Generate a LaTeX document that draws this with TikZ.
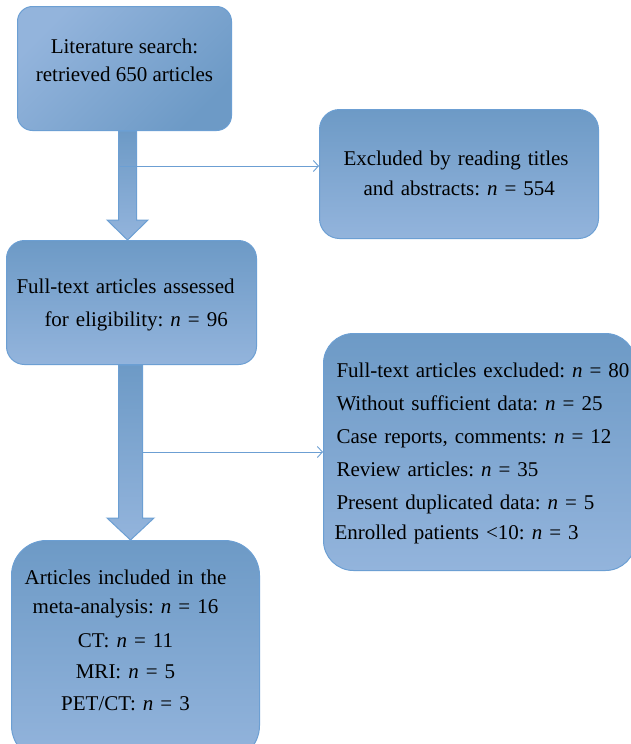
\documentclass[tikz,border=0pt]{standalone}
\usepackage{fontspec}
\setmainfont{Liberation Serif}
\frenchspacing
\usetikzlibrary{arrows.meta,calc}

\definecolor{boxdark}{HTML}{6D9AC6}
\definecolor{boxlight}{HTML}{93B4DC}
\definecolor{boxedge}{HTML}{6C9FD3}

\begin{document}
\begin{tikzpicture}[x=1pt,y=-1pt,>={Straight Barb[length=5pt,width=11pt]}]
  \tikzset{
    box/.style={draw=boxedge, line width=1pt, top color=boxdark, bottom color=boxlight,
      inner ysep=0pt, anchor=north west, font=\fontsize{21}{#1}\selectfont},
    box/.default=30,
    bigarrow/.style={draw=boxedge, line width=1pt, top color=boxdark, bottom color=boxlight},
    link/.style={draw=boxedge, line width=0.9pt, ->}
  }
  \path[use as bounding box, fill=white] (0,0) rectangle (630,744);

  % boxes
  \node[box=28, rounded corners=15pt, top color=boxlight, bottom color=boxdark, shading angle=45,
    minimum width=214pt, align=center, text height=75pt, text depth=49pt] (lit) at (17,6)
    {Literature search:\\retrieved 650 articles};
  \node[box=30, rounded corners=20pt, inner xsep=24pt, text width=231pt, align=left,
    text height=56pt, text depth=73pt] (excl1) at (319,109)
    {Excluded by reading titles\\\hspace*{20pt}and abstracts: \textit{n} = 554};
  \node[box=33, rounded corners=18pt, inner xsep=10pt, text width=230pt, align=left,
    text height=53pt, text depth=71pt] (assess) at (6,240)
    {Full-text articles assessed\\\hspace*{28pt}for eligibility: \textit{n} = 96};
  \node[box=33, rounded corners=30pt, inner xsep=13pt, text width=286pt, align=left,
    text height=44pt, text depth=193pt] (excl2) at (323,333)
    {\mbox{Full-text articles excluded: \textit{n} = 80}\\
     Without sufficient data: \textit{n} = 25\\
     Case reports, comments: \textit{n} = 12\\
     Review articles: \textit{n} = 35\\
     Present duplicated data: \textit{n} = 5\\[-3pt]
     \hspace*{-2pt}Enrolled patients <10: \textit{n} = 3};
  \node[box=31, rounded corners=35pt, inner xsep=15pt, text width=218pt, align=left,
    text height=44pt, text depth=176pt] (incl) at (11,540)
    {\makebox[198pt]{Articles included in the}\\[-2pt]
     \makebox[198pt]{meta-analysis: \textit{n} = 16}\\[3pt]
     \makebox[198pt]{CT: \textit{n} = 11}\\
     \makebox[198pt]{MRI: \textit{n} = 5}\\[1pt]
     \makebox[198pt]{PET/CT: \textit{n} = 3}};

  % block arrows down the left column
  \coordinate (a1) at ($(lit.south)+(3,0)$);
  \coordinate (a1tip) at (a1 |- assess.north);
  \path[bigarrow] ($(a1)+(-9,0)$) -- ($(a1tip)+(-9,-20)$) -- ($(a1tip)+(-20.5,-20)$) -- (a1tip)
    -- ($(a1tip)+(20.5,-20)$) -- ($(a1tip)+(9,-20)$) -- ($(a1)+(9,0)$) -- cycle;
  \coordinate (a2) at ($(assess.south)+(-1,0)$);
  \coordinate (a2tip) at (a2 |- incl.north);
  \path[bigarrow] ($(a2)+(-12,0)$) -- ($(a2tip)+(-12,-22)$) -- ($(a2tip)+(-23.5,-22)$) -- (a2tip)
    -- ($(a2tip)+(23.5,-22)$) -- ($(a2tip)+(12,-22)$) -- ($(a2)+(12,0)$) -- cycle;

  % side links to the exclusion boxes
  \coordinate (s1) at ($(a1)+(-8,35)$);
  \draw[link] (s1) -- (s1 -| excl1.west);
  \coordinate (s2) at ($(a2)+(12,0)$);
  \draw[link] (s2 |- excl2.west) -- (excl2.west);
\end{tikzpicture}
\end{document}
